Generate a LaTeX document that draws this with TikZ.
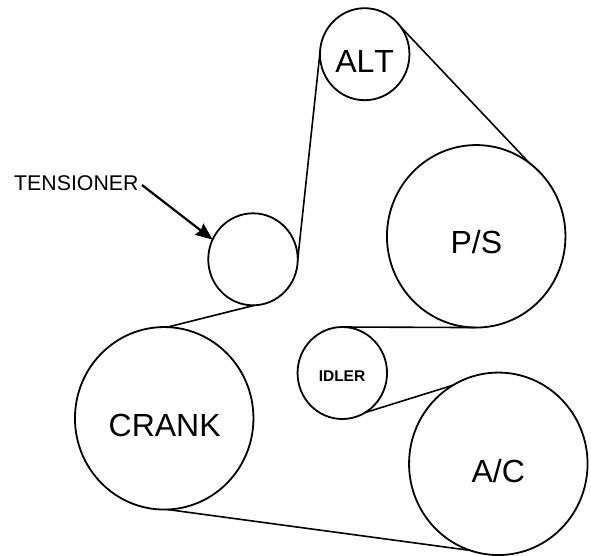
\documentclass[tikz,border=0pt]{standalone}
\usepackage{fontspec}
\setmainfont{Liberation Sans}
\usetikzlibrary{arrows.meta,shapes.geometric}
\tikzset{
  x=1pt,y=-1pt,
  pulley/.style={draw=black,ellipse,inner sep=0pt,outer sep=0pt,line width=1.8pt},
  bigp/.style={pulley,minimum width=178.5pt,minimum height=182.5pt},
  smallp/.style={pulley,minimum width=89.5pt,minimum height=92pt},
  plabel/.style={inner sep=0pt,text=black,anchor=base,font=\fontsize{32}{32}\selectfont},
  belt/.style={line width=1.6pt,black},
  pointer/.style={line width=2.2pt,black,-{Stealth[length=17pt,width=14pt,inset=2pt]}}
}
\begin{document}
\begin{tikzpicture}
\useasboundingbox (0,0) rectangle (591,555);
\node[smallp] (alt) at (364.7,54.2) {};
\node[bigp] (ps) at (476.2,236.3) {};
\node[smallp] (tens) at (253,259.3) {};
\node[smallp] (idler) at (342.3,373) {};
\node[bigp] (crank) at (164.2,418.3) {};
\node[bigp] (ac) at (498.3,463.8) {};
\node[plabel,font=\addfontfeatures{Kerning=Off}\fontsize{32}{32}\selectfont] (altlabel) at (364.7,72) {ALT};
\node[plabel] (pslabel) at (476.3,253) {P/S};
\node[plabel,font=\bfseries\fontsize{15.5}{16}\selectfont] (idlerlabel) at (342,381) {IDLER};
\node[plabel] (cranklabel) at (164.7,436) {CRANK};
\node[plabel] (aclabel) at (498.3,482) {A/C};
\node[plabel,anchor=base west,font=\fontsize{21.3}{22}\selectfont] (tlabel) at (14,190) {TENSIONER};
\coordinate (tstart) at (142,185);
\draw[belt] (alt.178) -- (tens.0);
\draw[belt] (alt.37) -- (ps.54);
\draw[belt] (tens.-88) -- (crank.88);
\draw[belt] (ps.south) -- (idler.north);
\draw[belt] (idler.-60) -- (ac.120);
\draw[belt] (crank.-88) -- (ac.-108);
\draw[pointer] (tstart) -- (tens.154);
\end{tikzpicture}
\end{document}
